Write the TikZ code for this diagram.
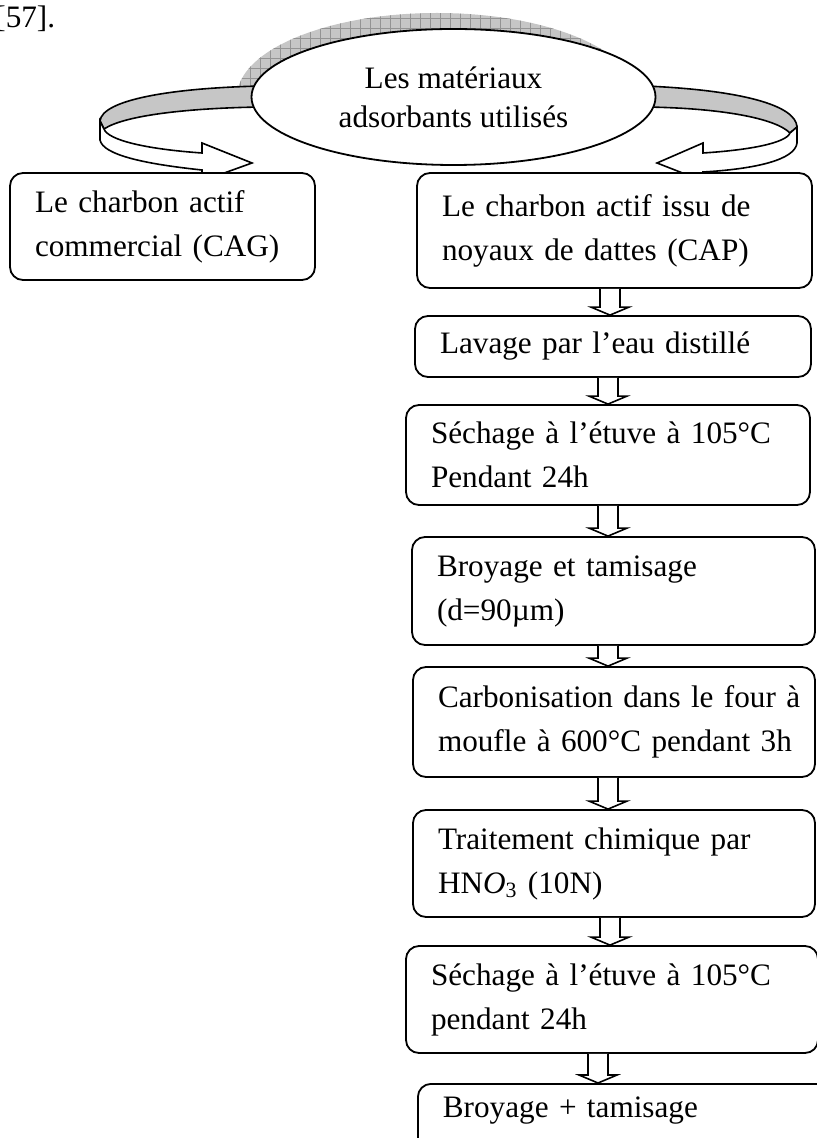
\documentclass[tikz,border=0pt]{standalone}
\usepackage{fontspec}
\setmainfont{Liberation Serif}
\usetikzlibrary{shapes.geometric, calc, patterns.meta}

\begin{document}
\begin{tikzpicture}[
    x=0.5pt, y=-0.5pt,
    font=\fontsize{15.6}{22}\selectfont,
    stepbox/.style={
        rectangle, draw=black, fill=white, line width=0.9pt,
        rounded corners=6.5pt, align=left, inner xsep=12.5pt, inner ysep=3pt
    },
    blockarr/.style={draw=black, fill=white, line width=0.8pt, line join=miter},
    backband/.style={draw=black, fill=gray!45, line width=0.8pt},
    frontband/.style={draw=black, fill=white, line width=0.8pt, line join=miter},
    hatch/.style={preaction={fill=gray!45},
        pattern={Hatch[angle=0, distance=5pt, line width=0.4pt]}, pattern color=gray!85}
]
    \useasboundingbox (0,0) rectangle (817,1138);
    % Reference
    \node (ref) [anchor=base west, inner sep=0pt] at (-5,28) {[57].};
    % Shaded back of the loop
    \fill[hatch] (237,97) arc[start angle=180, end angle=0, x radius=100pt, y radius=42pt] -- cycle;
    % Back of the ribbons
    \draw[backband] (262,86) .. controls (170,88) and (102,100) .. (100,121) -- (104,129)
        .. controls (125,115) and (190,108) .. (262,107) -- cycle;
    \draw[backband] (645,86) .. controls (740,90) and (796,105) .. (797,127) -- (790,133)
        .. controls (775,118) and (720,108) .. (645,107) -- cycle;
    % Centre
    \node (mat) [ellipse, draw=black, fill=white, line width=0.9pt, inner sep=0pt,
        minimum width=202pt, minimum height=68pt, align=center,
        font=\fontsize{15.6}{19.5}\selectfont] at (453.5,97) {Les matériaux\\adsorbants utilisés};
    % Front of the ribbons
    \draw[frontband] (100,121) -- (100,140) .. controls (103,155) and (145,164) .. (202,170)
        -- (202,181) -- (252,163) -- (202,143) -- (202,153)
        .. controls (145,149) and (108,140) .. (104,129) -- cycle;
    \draw[frontband] (797,127) -- (797,143) .. controls (795,160) and (755,169) .. (703,172)
        -- (703,181) -- (657,163) -- (703,143) -- (703,153)
        .. controls (750,150) and (786,143) .. (790,133) -- cycle;
    % Boxes
    \node (cag) [stepbox, text width=127.5pt, minimum height=53.5pt] at (162.5,226.5)
        {Le charbon actif\\commercial (CAG)};
    \node (cap) [stepbox, text width=172.5pt, minimum height=57.5pt] at (614.5,230.5)
        {Le charbon actif issu de\\noyaux de dattes (CAP)};
    \node (lavage) [stepbox, text width=173pt, minimum height=30.5pt] at (613,346.5)
        {Lavage par l’eau distillé};
    \node (sechA) [stepbox, text width=177pt, minimum height=50pt] at (608,455)
        {Séchage à l’étuve à 105°C\\Pendant 24h};
    \node (broyA) [stepbox, text width=176.5pt, minimum height=54pt] at (613.5,591)
        {Broyage et tamisage\\(d=90µm)};
    \node (carbo) [stepbox, text width=176pt, minimum height=55pt] at (614,722)
        {\mbox{Carbonisation dans le four à}\\\mbox{moufle à 600°C pendant 3h}};
    \node (traite) [stepbox, text width=176pt, minimum height=53.5pt] at (614,863.5)
        {Traitement chimique par\\HN\textit{O}\textsubscript{3} (10N)};
    \node (sechB) [stepbox, text width=181pt, minimum height=53.5pt] at (612,999.5)
        {Séchage à l’étuve à 105°C\\pendant 24h};
    \node (broyB) [stepbox, anchor=north west, text width=181.5pt, inner ysep=6.7pt,
        text depth=30pt] at (417,1083) {Broyage + tamisage};
    % Block arrows
    \foreach \from/\to/\xc in {cap/lavage/610, lavage/sechA/608, sechA/broyA/608,
        broyA/carbo/608, carbo/traite/608, traite/sechB/610, sechB/broyB/598} {
        \path (\xc,0 |- \from.south) coordinate (ashaft) (\xc,0 |- \to.north) coordinate (atip);
        \draw[blockarr] ($(ashaft)+(-10,0)$) -- ($(atip)+(-10,-8)$) -- ($(atip)+(-19,-8)$)
            -- (atip) -- ($(atip)+(19,-8)$) -- ($(atip)+(10,-8)$) -- ($(ashaft)+(10,0)$);
    }
\end{tikzpicture}
\end{document}
